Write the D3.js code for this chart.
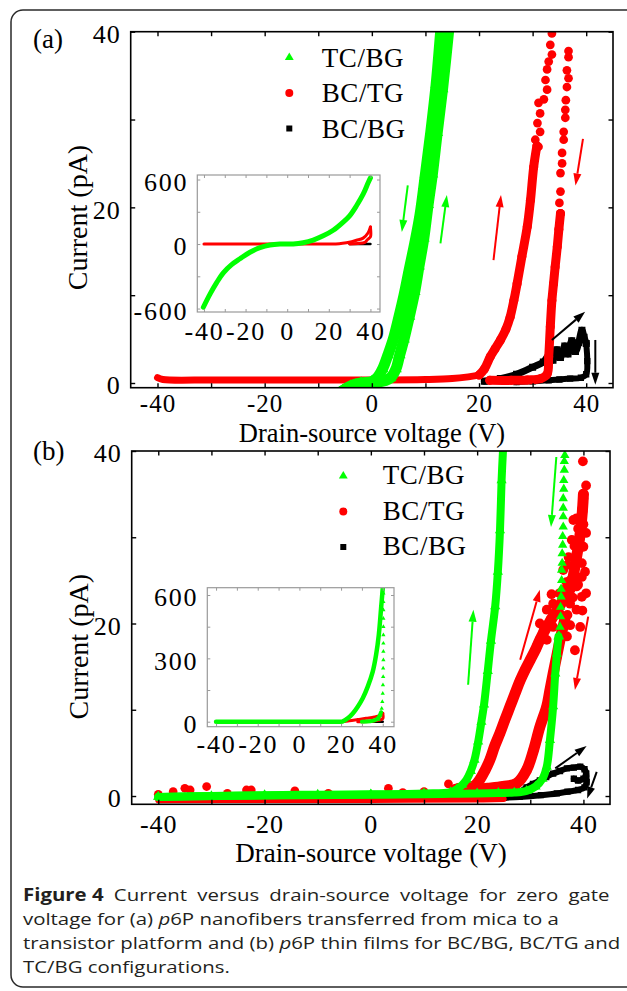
<!DOCTYPE html>
<html>
<head>
<meta charset="utf-8">
<script src="https://cdn.jsdelivr.net/npm/d3@7"></script>
<style>
  body { margin: 0; background: #fff; }
</style>
</head>
<body>
<div id="chart"></div>
<script>
// ---------- data ----------
var seriesNames = ["TC/BG", "BC/TG", "BC/BG"];
var xTicks = [-40, -30, -20, -10, 0, 10, 20, 30, 40];
var xTickLabels = [-40, -20, 0, 20, 40];
var yTicks = [0, 10, 20, 30, 40];
var yTickLabels = [0, 20, 40];
var insetATicks = [-600, -300, 0, 300, 600];
var insetATickLabels = [-600, 0, 600];
var insetBTicks = [0, 150, 300, 450, 600];
var insetBTickLabels = [0, 300, 600];

// (a) nanofibers, main plot [V, pA]
var aGreenFwd = [[-5.5, -0.9], [-3, -0.2], [0, 0.05], [2, 0.2], [3.5, 0.6], [4.5, 1.6], [5.2, 3.2], [6, 5.0], [7, 7.6], [8, 10.4], [8.8, 13.3], [9.7, 16.5], [10.5, 20.3], [11.3, 23.8], [12.2, 28.5], [13.2, 33.5], [14.4, 40.5]];
var aGreenRev = [[-5.5, -0.9], [-4, -0.35], [-2, 0.0], [0, 0.15], [1, 0.6], [2, 1.6], [3, 3.2], [4, 5.0], [5, 7.4], [6, 10.0], [7, 13.0], [8, 15.9], [9, 19.2], [10, 23.8], [11, 28.6], [12, 34.0], [12.9, 40.5]];
var aRedBase = [[-40, 0.6], [-39, 0.4], [-30, 0.35], [-20, 0.35], [-10, 0.35], [0, 0.35], [10, 0.4], [15, 0.5], [18, 0.7], [20, 0.9]];
var aRedFwd = [[20, 0.9], [21, 1.6], [22.1, 3.0], [23, 3.9], [24, 4.9], [25, 6.1], [25.8, 7.5], [26.5, 9.4], [27.1, 11.3], [28, 14.4], [29, 17.8], [29.6, 20.8], [30.2, 24.6], [30.8, 27]];
var aRedFwdDots = [[31.1, 26.9], [30.5, 27.7], [31.4, 28.6], [30.9, 29.6], [31.4, 30.7], [31.1, 31.9], [32.1, 32.3], [32.7, 33.4], [32.4, 34.5], [32.7, 35.7], [33.0, 36.6], [33.6, 37.4], [33.3, 38.5], [33.6, 39.8]];
var aRedRev = [[35.2, 19.3], [34.9, 17.5], [34.6, 15.5], [34.2, 13.2], [33.9, 11.3], [33.6, 9.4], [33.3, 6.4], [33.0, 3.0], [32.7, 1.0], [31.5, 0.5], [29, 0.35], [26, 0.3], [22, 0.3]];
var aRedRevDots = [[36.7, 37.8], [36.7, 37.1], [36.4, 35.6], [36.7, 34.7], [36.4, 33.7], [36.2, 32.2], [36.1, 31.1], [36.1, 30.2], [35.8, 28.6], [35.8, 27.7], [35.5, 26.2], [35.5, 25.0], [35.2, 23.9], [35.2, 21.8], [35.0, 20.5], [35.2, 19.3]];
var aBlackFwd = [[21, 0.2], [24, 0.5], [27, 1.0], [30, 1.8], [32, 2.4], [33, 3.1], [33.8, 2.6], [34.5, 3.8], [35.2, 2.9], [36, 4.2], [36.6, 3.3], [37.3, 4.8], [38, 3.6], [38.6, 4.6], [39.2, 6.0], [39.6, 5.2], [40, 4.5]];
var aBlackRev = [[40, 4.5], [40.2, 2.5], [40, 1.0], [39, 0.6], [37, 0.5], [35, 0.4], [33, 0.3], [30, 0.2], [27, 0.1]];
// arrows [V1, I1, V2, I2]
var aArrowsGreen = [[6.7, 22.5, 5.6, 17.2], [12.8, 15.9, 14.0, 21.4]];
var aArrowsRed = [[22.7, 14.0, 24.1, 21.4], [39.4, 27.8, 38.0, 22.5]];
var aArrowsBlack = [[33.6, 4.9, 39.8, 8.1], [41.7, 4.9, 41.7, -0.2]];

// (a) inset [V, pA]
var aInGreen = [[-40.3, -588], [-37.1, -466], [-33.9, -359], [-30.7, -268], [-26.7, -192], [-22.7, -137], [-17.9, -76], [-13.1, -34], [-8.3, -9], [-3.5, 0], [2.9, 0], [7.7, 12], [12.5, 37], [17.3, 76], [22.1, 128], [26.9, 204], [30.1, 265], [33.3, 356], [36.5, 463], [38.9, 570], [40, 615]];
var aInRedFwd = [[-40, 0], [-20, 0], [0, 0], [20, 0], [25, 3], [28.5, 12], [31, 22], [33.3, 35], [36.5, 55], [38.9, 105], [40, 158]];
var aInRedRev = [[40, 158], [40.2, 100], [40, 67], [38.5, 40], [37.3, 15], [34, 5], [30, 0]];
var aInBlack = [[30, 0], [35, 0], [40, 0]];

// (b) thin films, main plot [V, pA]
var bGreenFwd = [[-40, -0.1], [-30, 0], [-20, 0.1], [-10, 0.15], [0, 0.2], [10, 0.3], [15, 0.45], [16.2, 0.8], [17.2, 1.3], [18, 1.9], [18.8, 2.9], [19.5, 4.2], [20.2, 6.3], [20.8, 8.6], [21.3, 10.6], [22, 14.5], [22.6, 18], [23.4, 22], [23.9, 26], [24.3, 30.8], [24.6, 36.6], [24.9, 40.5]];
var bGreenRev = [[35.3, 18.5], [35.0, 16.5], [34.7, 14.2], [34.3, 10.4], [33.7, 6.5], [33.1, 3.4], [32.3, 2.0], [31.0, 1.1], [29.3, 0.6], [27, 0.4], [24, 0.35], [20, 0.3], [15, 0.25], [10, 0.2], [0, 0.15], [-20, 0.05], [-40, -0.1]];
var bGreenRevDots = [[36.5, 39.5], [36.4, 38.8], [36.4, 37.8], [36.3, 36.6], [36.3, 35.6], [36.2, 34.5], [36.2, 33.4], [36.2, 32.4], [36.2, 31.2], [36.1, 30.1], [36.1, 29.1], [36.0, 28.1], [36.0, 27.0], [35.9, 26.2], [35.9, 25.0], [35.8, 24.0], [35.8, 23.1], [35.7, 21.9], [35.7, 20.8], [35.6, 19.6], [35.5, 18.5]];
var bRedBase = [[-40, -0.5], [-20, -0.45], [0, -0.45], [20, -0.4], [25, -0.35]];
var bRedBaseDots = [[-40, 0.2], [-37.2, 0.5], [-35, 0.9], [-34, 0.7], [-30.9, 1.1], [-27, 0.3], [-23.4, 0.7], [-22.5, 0.7], [-14.3, 0.6], [-8, 0.3], [3.3, 0.9], [6, 0.4], [10, 0.5], [14.6, 1.4], [16.5, 1.0]];
var bRedFwd = [[16, 0.8], [18, 1.0], [19.5, 1.2], [20.5, 1.9], [21.5, 3.0], [22.4, 4.2], [23.3, 5.8], [24.3, 7.3], [25.2, 8.8], [26.2, 10.4], [27.2, 12.0], [28.1, 13.4], [29, 14.6], [30, 15.8], [31, 17.0], [31.8, 18.1], [33, 19.5], [34.5, 21], [36, 22.5], [37.5, 24], [38.5, 27], [39.3, 30], [39.8, 33], [40, 35]];
var bRedCloud = [[39.9, 38.8], [40.0, 34.5], [39.7, 33.2], [38.7, 32.2], [38.1, 32.0], [40.0, 31.5], [39.4, 30.1], [37.8, 29.7], [40.0, 28.9], [38.7, 28.1], [37.2, 27.7], [39.7, 27.0], [38.1, 26.6], [36.2, 26.2], [39.7, 25.4], [37.5, 25.0], [38.7, 24.3], [36.2, 23.9], [39.7, 23.1], [34.3, 22.3], [37.5, 22.3], [33.1, 21.6], [38.7, 21.6], [36.2, 20.8], [31.8, 20.0], [34.3, 19.6], [39.4, 19.6], [36.9, 18.5], [33.1, 18.1], [31.2, 17.3], [38.4, 16.9], [35.0, 16.5],
                 [32.5, 19.2], [33.8, 20.5], [35.5, 21.2], [37.0, 21.0], [38.0, 23.0], [39.0, 24.5], [40.3, 26.0], [37.0, 26.8], [38.3, 29.0], [39.0, 31.0], [40.5, 30.5], [36.8, 24.8], [35.5, 23.5], [34.0, 23.4], [36.0, 19.5], [37.5, 19.8], [39.8, 21.5], [40.5, 23.5], [40.5, 36.0]];
var bRedRev = [[36.5, 20.5], [35.6, 18.1], [34.9, 16], [34.3, 14.2], [33.7, 12.3], [33.1, 10.4], [31.8, 8.0], [30.6, 5.3], [29.3, 3.0], [27.5, 1.5], [24.9, 1.1], [22, 0.9], [20, 0.8]];
var bBlackFwd = [[24, -0.2], [26, 0.1], [28, 0.5], [29.3, 1.0], [30.5, 1.4], [31.8, 1.8], [33, 2.2], [34.3, 2.6], [35.6, 2.9], [36.9, 3.2], [38.2, 3.3], [39.4, 3.4], [40.2, 3.1], [40.5, 2.6], [40, 2.0], [39, 1.8], [38.2, 2.0]];
var bBlackRev = [[40.5, 2.6], [40.6, 1.6], [40.2, 1.0], [39, 0.7], [37, 0.5], [35, 0.3], [32, 0.1], [28, -0.1], [25, -0.2]];
var bArrowsGreen = [[18.3, 12.9, 19.3, 21.6], [34.9, 39.3, 33.9, 31.2]];
var bArrowsRed = [[28.1, 15.8, 31.8, 23.9], [40.9, 20.8, 38.4, 12.3]];
var bArrowsBlack = [[34.7, 3.2, 40.6, 5.8], [42.5, 2.8, 40.7, -0.3]];

// (b) inset [V, pA]
var bInGreenFwd = [[-40, 0], [-20, 0], [0, 0], [20, 0], [20.8, 1], [23.2, 16], [25.6, 39], [28, 71], [30.4, 111], [32.8, 166], [35.2, 237], [36.8, 316], [38.1, 411], [39.2, 537], [40, 632]];
var bInGreenRev = [[30, 0], [34, 2], [36.5, 8], [38, 20], [39.2, 45]];
var bInGreenRevDots = [[40.3, 608], [40.3, 568], [40.3, 529], [40.3, 489], [40.3, 450], [40.3, 411], [40.3, 371], [40.3, 332], [40.3, 292], [40.2, 253], [40.2, 213], [40.1, 174], [40, 134], [39.8, 95], [39.5, 63], [39, 32], [38, 10]];
var bInRedFwd = [[-40, 0], [-20, 0], [0, 0], [20, 0], [24, 4], [28, 10], [32, 16], [36, 22], [39, 30], [40, 40]];
var bInRedRev = [[40, 40], [40, 15], [37, 5], [33, 1], [28, 0]];
var bInBlack = [[30, 0], [35, 0], [40, 0]];

// ---------- drawing ----------
var GREEN = "#00ff00", RED = "#ff0000", BLACK = "#000000";
var SERIF = "'Liberation Serif', 'Times New Roman', serif";

var svg = d3.select("#chart").append("svg")
    .attr("width", 627)
    .attr("height", 991);
var defs = svg.append("defs");

svg.append("rect")
    .attr("x", 11).attr("y", 10)
    .attr("width", 640).attr("height", 977)
    .attr("rx", 12)
    .style("fill", "none")
    .style("stroke", "#2a2a2a")
    .style("stroke-width", 1.5);

function makePanel(p) {
  var x = d3.scaleLinear().domain(p.xDomain).range([p.left, p.right]);
  var y = d3.scaleLinear().domain(p.yDomain).range([p.bottom, p.top]);
  var g = svg.append("g").attr("class", p.id);

  g.append("rect")
      .attr("x", p.left).attr("y", p.top)
      .attr("width", p.right - p.left).attr("height", p.bottom - p.top)
      .style("fill", "#fff");

  defs.append("clipPath").attr("id", "clip-" + p.id)
    .append("rect")
      .attr("x", p.left).attr("y", p.top)
      .attr("width", p.right - p.left).attr("height", p.bottom - p.top);

  var plot = g.append("g").attr("clip-path", "url(#clip-" + p.id + ")");
  return { x: x, y: y, g: g, plot: plot, p: p };
}

function frameAxes(s) {
  var p = s.p, g = s.g.append("g");
  function fmt(list) {
    return function(d) { return list.indexOf(d) >= 0 ? String(d) : ""; };
  }
  g.append("g").attr("class", "xaxis").attr("transform", "translate(0," + p.bottom + ")")
      .call(d3.axisBottom(s.x).tickValues(p.xTicks).tickFormat(fmt(p.xLabels))
        .tickSizeInner(-p.tick).tickSizeOuter(0).tickPadding(p.padX));
  g.append("g").attr("transform", "translate(0," + p.top + ")")
      .call(d3.axisTop(s.x).tickValues(p.xTicks).tickFormat("")
        .tickSizeInner(-p.tick).tickSizeOuter(0));
  g.append("g").attr("class", "yaxis").attr("transform", "translate(" + p.left + ",0)")
      .call(d3.axisLeft(s.y).tickValues(p.yTicks).tickFormat(fmt(p.yLabels))
        .tickSizeInner(-p.tick).tickSizeOuter(0).tickPadding(p.padY));
  g.append("g").attr("transform", "translate(" + p.right + ",0)")
      .call(d3.axisRight(s.y).tickValues(p.yTicks).tickFormat("")
        .tickSizeInner(-p.tick).tickSizeOuter(0));

  g.selectAll(".domain").remove();
  g.selectAll(".tick line")
      .style("stroke", p.stroke)
      .style("stroke-width", p.tickWidth);
  g.selectAll(".tick text")
      .style("font-family", SERIF)
      .style("font-size", p.fontSize + "px")
      .style("letter-spacing", p.spacing + "px")
      .style("fill", "#000");
  if (p.xFontSize) g.selectAll(".xaxis .tick text").style("font-size", p.xFontSize + "px");
  g.selectAll(".yaxis .tick text").attr("dy", "0.42em");

  g.append("rect")
      .attr("x", p.left).attr("y", p.top)
      .attr("width", p.right - p.left).attr("height", p.bottom - p.top)
      .style("fill", "none")
      .style("stroke", p.stroke)
      .style("stroke-width", p.frameWidth);
}

function band(s, pts, color, width) {
  var line = d3.line()
      .x(function(d) { return s.x(d[0]); })
      .y(function(d) { return s.y(d[1]); })
      .curve(d3.curveCatmullRom.alpha(0.5));
  s.plot.append("path").datum(pts)
      .attr("d", line)
      .style("fill", "none")
      .style("stroke", color)
      .style("stroke-width", width)
      .style("stroke-linejoin", "round")
      .style("stroke-linecap", "round");
}

function dots(s, pts, type, size, color) {
  s.plot.selectAll(null)
      .data(pts)
    .enter().append("path")
      .attr("transform", function(d) { return "translate(" + s.x(d[0]) + "," + s.y(d[1]) + ")"; })
      .attr("d", d3.symbol().type(type).size(size))
      .style("fill", color);
}

function arrows(s, list, color) {
  list.forEach(function(a) {
    var x1 = s.x(a[0]), y1 = s.y(a[1]), x2 = s.x(a[2]), y2 = s.y(a[3]);
    var dx = x2 - x1, dy = y2 - y1, len = Math.sqrt(dx * dx + dy * dy);
    var ux = dx / len, uy = dy / len, hl = 12, hw = 4;
    var bx = x2 - ux * hl, by = y2 - uy * hl;
    s.g.append("line")
        .attr("x1", x1).attr("y1", y1).attr("x2", bx).attr("y2", by)
        .style("stroke", color)
        .style("stroke-width", 2);
    s.g.append("path")
        .attr("d", "M" + x2 + "," + y2 +
                   "L" + (bx - uy * hw) + "," + (by + ux * hw) +
                   "L" + (bx + uy * hw) + "," + (by - ux * hw) + "Z")
        .style("fill", color);
  });
}

function legend(s, L) {
  var types = [d3.symbolTriangle, d3.symbolCircle, d3.symbolSquare];
  var sizes = [34, 50, 36];
  var colors = [GREEN, RED, BLACK];
  seriesNames.forEach(function(name, i) {
    s.g.append("path")
        .attr("transform", "translate(" + L.symX + "," + (L.symY + i * L.dy) + ")")
        .attr("d", d3.symbol().type(types[i]).size(sizes[i]))
        .style("fill", colors[i]);
    s.g.append("text")
        .attr("x", L.textX)
        .attr("y", L.textY + i * L.dy)
        .style("font-family", SERIF)
        .style("font-size", "27px")
        .style("letter-spacing", "0.6px")
        .text(name);
  });
}

function titles(s, T) {
  s.g.append("text")
      .attr("x", T.xTitleX).attr("y", T.xTitleY)
      .attr("text-anchor", "middle")
      .style("font-family", SERIF)
      .style("font-size", T.xTitleSize + "px")
      .text("Drain-source voltage (V)");
  s.g.append("text")
      .attr("transform", "translate(" + T.yTitleX + "," + T.yTitleY + ") rotate(-90)")
      .attr("text-anchor", "middle")
      .style("font-family", SERIF)
      .style("font-size", "28px")
      .text("Current (pA)");
  s.g.append("text")
      .attr("x", 33).attr("y", T.labelY)
      .style("font-family", SERIF)
      .style("font-size", "27px")
      .text(T.label);
}

var mainStyle = { tick: 4.5, stroke: "#000", tickWidth: 1.4, frameWidth: 1.6, fontSize: 26, spacing: 1,
                  xTicks: xTicks, xLabels: xTickLabels, yTicks: yTicks, yLabels: yTickLabels };
var insetStyle = { tick: 3, stroke: "#9a9a9a", tickWidth: 1, frameWidth: 1.2, fontSize: 26, spacing: 1.8,
                   xTicks: xTicks, xLabels: xTickLabels };

// ----- panel (a) -----
var A = makePanel(Object.assign({ id: "pa", left: 130.7, right: 613, top: 31.7, bottom: 387.7,
                                  xDomain: [-45, 45], yDomain: [-0.535, 40], padX: 7, padY: 10,
                                  xFontSize: 25 }, mainStyle));
band(A, aBlackFwd, BLACK, 7);
band(A, aBlackRev, BLACK, 6);
dots(A, aBlackFwd, d3.symbolSquare, 49, BLACK);
dots(A, aBlackRev, d3.symbolSquare, 40, BLACK);
band(A, aRedBase, RED, 7);
band(A, aRedRev, RED, 9);
band(A, aRedFwd, RED, 9);
dots(A, aRedFwd, d3.symbolCircle, 64, RED);
dots(A, aRedRev, d3.symbolCircle, 64, RED);
dots(A, aRedFwdDots, d3.symbolCircle, 60, RED);
dots(A, aRedRevDots, d3.symbolCircle, 60, RED);
band(A, aGreenRev, GREEN, 11);
band(A, aGreenFwd, GREEN, 11);
dots(A, aGreenRev, d3.symbolTriangle, 60, GREEN);
dots(A, aGreenFwd, d3.symbolTriangle, 60, GREEN);
frameAxes(A);
arrows(A, aArrowsGreen, GREEN);
arrows(A, aArrowsRed, RED);
arrows(A, aArrowsBlack, BLACK);
legend(A, { symX: 289.3, symY: 57.5, textX: 321.7, textY: 66.7, dy: 35.5 });
titles(A, { xTitleX: 372, xTitleY: 442, xTitleSize: 26.5, yTitleX: 87, yTitleY: 217.5, labelY: 48, label: "(a)" });

var AI = makePanel(Object.assign({ id: "ia", left: 197.3, right: 380, top: 175, bottom: 312,
                                   xDomain: [-43.2, 44.6], yDomain: [-632, 642], padX: 9.5, padY: 9,
                                   yTicks: insetATicks, yLabels: insetATickLabels }, insetStyle));
band(AI, aInBlack, BLACK, 2.5);
band(AI, aInRedFwd, RED, 3);
band(AI, aInRedRev, RED, 3);
band(AI, aInGreen, GREEN, 5);
frameAxes(AI);

// ----- panel (b) -----
var B = makePanel(Object.assign({ id: "pb", left: 131.7, right: 610, top: 451, bottom: 804.3,
                                  xDomain: [-45, 45], yDomain: [-0.96, 40], padX: 10, padY: 10 }, mainStyle));
band(B, bBlackFwd, BLACK, 6);
band(B, bBlackRev, BLACK, 6);
dots(B, bBlackFwd, d3.symbolSquare, 40, BLACK);
dots(B, bBlackRev, d3.symbolSquare, 40, BLACK);
band(B, bRedBase, RED, 6);
dots(B, bRedBaseDots, d3.symbolCircle, 60, RED);
band(B, bRedRev, RED, 11);
band(B, bRedFwd, RED, 11);
dots(B, bRedFwd, d3.symbolCircle, 80, RED);
dots(B, bRedRev, d3.symbolCircle, 80, RED);
dots(B, bRedCloud, d3.symbolCircle, 75, RED);
band(B, bGreenRev, GREEN, 8);
band(B, bGreenFwd, GREEN, 8);
dots(B, bGreenFwd, d3.symbolTriangle, 45, GREEN);
dots(B, bGreenRev, d3.symbolTriangle, 45, GREEN);
dots(B, bGreenRevDots, d3.symbolTriangle, 38, GREEN);
frameAxes(B);
arrows(B, bArrowsGreen, GREEN);
arrows(B, bArrowsRed, RED);
arrows(B, bArrowsBlack, BLACK);
legend(B, { symX: 343.3, symY: 476, textX: 382.7, textY: 484, dy: 35.5 });
titles(B, { xTitleX: 371, xTitleY: 862, xTitleSize: 27, yTitleX: 88, yTitleY: 646.7, labelY: 460, label: "(b)" });

var BI = makePanel(Object.assign({ id: "ib", left: 207.3, right: 394, top: 587.7, bottom: 726.7,
                                   xDomain: [-44.2, 45.4], yDomain: [-23.7, 634.6], padX: 8, padY: 9,
                                   yTicks: insetBTicks, yLabels: insetBTickLabels }, insetStyle));
band(BI, bInBlack, BLACK, 2.5);
band(BI, bInRedFwd, RED, 3);
band(BI, bInRedRev, RED, 3);
band(BI, bInGreenRev, GREEN, 4);
band(BI, bInGreenFwd, GREEN, 4.5);
dots(BI, bInGreenRevDots, d3.symbolTriangle, 8, GREEN);
frameAxes(BI);

// ----- caption (source text looks horizontally stretched) -----
var cap = svg.append("g")
    .attr("transform", "translate(23,0) scale(1.2,1)")
  .append("text")
    .style("font-family", "'Open Sans', 'Noto Sans', sans-serif")
    .style("font-size", "17px")
    .style("fill", "#231f20");
var lines = [
  [["Figure 4", "bold"], [" Current versus drain-source voltage for zero gate", ""]],
  [["voltage for (a) ", ""], ["p", "italic"], ["6P nanofibers transferred from mica to a", ""]],
  [["transistor platform and (b) ", ""], ["p", "italic"], ["6P thin films for BC/BG, BC/TG and", ""]],
  [["TC/BG configurations", ""], [".", ""]]
];
lines.forEach(function(parts, i) {
  parts.forEach(function(part, j) {
    var t = cap.append("tspan").text(part[0]);
    if (j === 0) t.attr("x", 0).attr("y", 901 + i * 24);
    if (i === 0 && j === 1) t.style("word-spacing", "4.1px");
    if (part[1] === "bold") t.style("font-weight", "bold");
    if (part[1] === "italic") t.style("font-style", "italic");
  });
});
</script>
</body>
</html>
